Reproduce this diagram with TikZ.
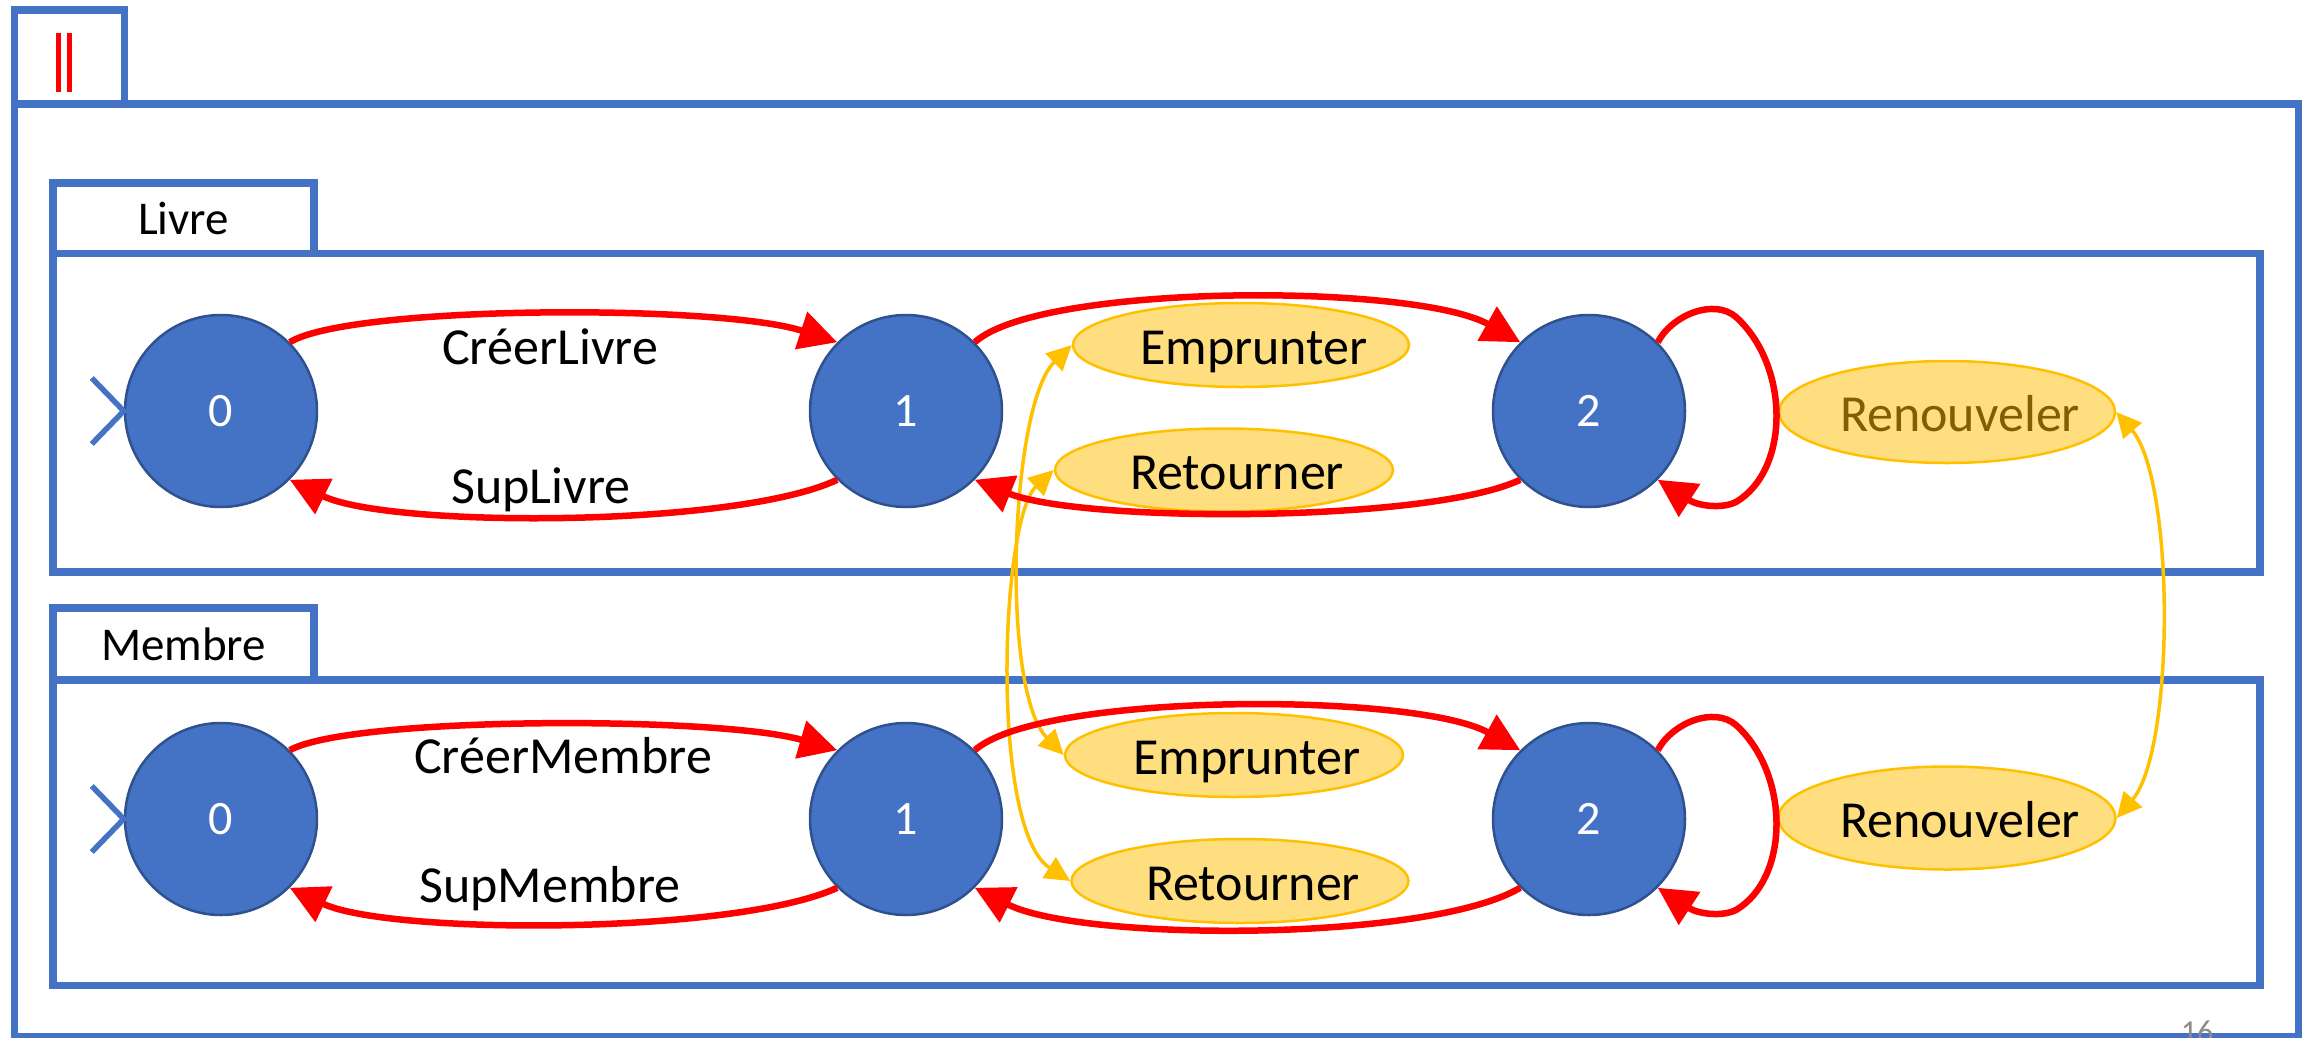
\documentclass[tikz,border=0pt]{standalone}
\usepackage{fontspec}
\setmainfont{Carlito}
\usetikzlibrary{arrows.meta,shapes.geometric}
\definecolor{frameblue}{HTML}{4472C4}
\definecolor{stateblue}{HTML}{4472C4}
\definecolor{stateedge}{HTML}{2F528F}
\definecolor{actfill}{HTML}{FFDE80}
\definecolor{actedge}{HTML}{FFC000}
\definecolor{acttext}{HTML}{7F6000}
\definecolor{pagenum}{HTML}{8C8C8C}
% action name, set slightly right of the ellipse centre without widening it
\newcommand{\actname}[1]{\makebox[0pt]{\hspace*{26pt}#1}}
\tikzset{
  frame/.style={draw=frameblue, line width=7.5pt},
  tab/.style={draw=frameblue, line width=7.5pt, minimum width=261pt, inner sep=0pt,
    font=\fontsize{47}{56}\selectfont},
  state/.style={circle, fill=stateblue, draw=stateedge, line width=2.5pt,
    minimum size=192pt, inner sep=0pt, text=white, font=\fontsize{48}{56}\selectfont},
  action/.style={ellipse, fill=actfill, draw=actedge, line width=2.5pt, inner sep=0pt,
    font=\fontsize{52}{62}\selectfont, text height=38pt, text depth=0pt},
  trans/.style={draw=red, line width=6.5pt, -{Triangle[length=38pt,width=38pt]}},
  sync/.style={draw=actedge, line width=3.5pt,
    {Triangle[length=25pt,width=24pt]}-{Triangle[length=25pt,width=24pt]}},
  lbl/.style={anchor=base, inner sep=0pt, font=\fontsize{52}{62}\selectfont},
  initmark/.style={draw=frameblue, line width=5.5pt},
}
\begin{document}
\begin{tikzpicture}[x=1pt,y=-1pt]
\useasboundingbox (0,0) rectangle (2311,1037);

% outer parallel-composition frame
\draw[frame] (14.5,10) rectangle (124.5,104);
\draw[frame] (14.5,104) rectangle (2298.5,1037);
\node[inner sep=0pt] (par) at (64,62.5)
  {\textcolor{red}{\rule{5pt}{59pt}\hspace{6pt}\rule{5pt}{59pt}}};

% component frames
\node[tab, minimum height=70.5pt] (livretab) at (183.5,218.25) {Livre};
\draw[frame] (53,253.5) rectangle (2260,572);
\node[tab, minimum height=72pt] (membretab) at (183.5,644) {Membre};
\draw[frame] (53,680) rectangle (2260,985.5);

% shared actions
\node[action, minimum width=336pt, minimum height=84pt] (LE) at (1241,345) {\actname{Emprunter}};
\node[action, minimum width=338pt, minimum height=83pt] (LR) at (1224,470) {\actname{Retourner}};
\node[action, minimum width=336pt, minimum height=102pt, text=acttext] (LN) at (1947,412) {\actname{Renouveler}};
\node[action, minimum width=338pt, minimum height=84pt] (ME) at (1234,755) {\actname{Emprunter}};
\node[action, minimum width=337pt, minimum height=84pt] (MR) at (1240,881) {\actname{Retourner}};
\node[action, minimum width=337pt, minimum height=103pt] (MN) at (1947,818) {\actname{Renouveler}};

% states
\node[state] (L0) at (221,411) {0};
\node[state] (L1) at (906,411) {1};
\node[state] (L2) at (1589,411) {2};
\node[state] (M0) at (221,819) {0};
\node[state] (M1) at (906,819) {1};
\node[state] (M2) at (1589,819) {2};

% initial-state markers
\draw[initmark] ([shift={(-32,-33)}]L0.west) -- (L0.west) -- ([shift={(-32,33)}]L0.west);
\draw[initmark] ([shift={(-32,-33)}]M0.west) -- (M0.west) -- ([shift={(-32,33)}]M0.west);

% synchronisation links
\draw[sync] (LE.west) .. controls (1010,405) and (1000,690) .. (ME.west);
\draw[sync] (LR.west) .. controls (1000,520) and (990,830) .. (MR.west);
\draw[sync] (LN.east) .. controls (2175,480) and (2175,750) .. (MN.east);

% Livre transitions
\draw[trans] (L0.45) .. controls (350,305) and (720,304) .. (L1.135);
\draw[trans] (L1.225) .. controls (735,528) and (388,528) .. (L0.315);
\draw[trans] (L1.45) .. controls (1040,283) and (1415,283) .. (L2.135);
\draw[trans] (L2.225) .. controls (1429,523) and (1082,523) .. (L1.315);
\draw[trans] (L2.45) .. controls (1672,315) and (1714,298) .. (1736,317)
  .. controls (1790,366) and (1790,470) .. (1736,502)
  .. controls (1722,509) and (1698,506) .. (L2.-45);

% Membre transitions
\draw[trans] (M0.45) .. controls (350,716) and (720,716) .. (M1.135);
\draw[trans] (M1.225) .. controls (735,935) and (388,935) .. (M0.315);
\draw[trans] (M1.45) .. controls (1040,692) and (1415,692) .. (M2.135);
\draw[trans] (M2.225) .. controls (1429,942) and (1082,942) .. (M1.315);
\draw[trans] (M2.45) .. controls (1672,723) and (1714,706) .. (1736,725)
  .. controls (1790,774) and (1790,878) .. (1736,910)
  .. controls (1722,917) and (1698,914) .. (M2.-45);

% transition labels
\node[lbl] (tCL) at (550,364) {CréerLivre};
\node[lbl] (tSL) at (541,503) {SupLivre};
\node[lbl] (tCM) at (563,773) {CréerMembre};
\node[lbl] (tSM) at (550,902) {SupMembre};

% page number
\node[anchor=north, inner sep=0pt, text=pagenum, font=\fontsize{32}{38}\selectfont] (pg) at (2197,1021) {16};
\end{tikzpicture}
\end{document}
